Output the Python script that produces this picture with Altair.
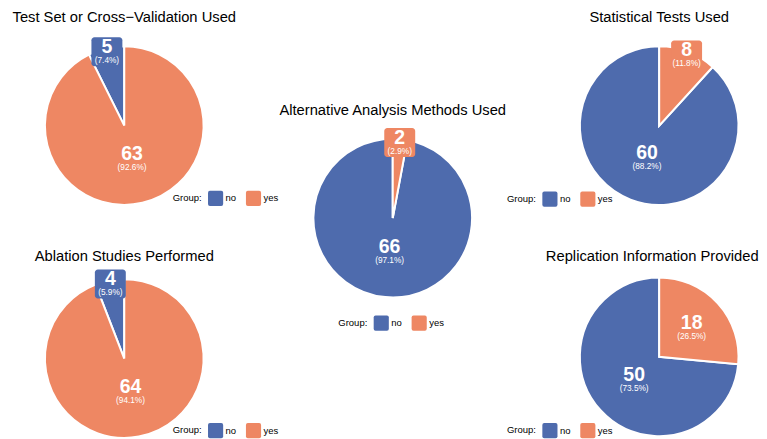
import math
import altair as alt
import pandas as pd

# ---- data ----
groups = ["no", "yes"]
title_test_set = "Test Set or Cross\u2212Validation Used"
title_stat = "Statistical Tests Used"
title_alt = "Alternative Analysis Methods Used"
title_ablation = "Ablation Studies Performed"
title_replication = "Replication Information Provided"
counts_test_set = [5, 63]
counts_stat = [60, 8]
counts_alt = [66, 2]
counts_ablation = [4, 64]
counts_replication = [50, 18]

# ---- style / layout ----
BLUE, ORANGE = "#4E6BAD", "#EE8763"
FONT = "Liberation Sans"
R_OUT = 79.5
STROKE = 2
BOX_W, BOX_H = 31, 29
TITLE_FS = 14.75
TITLE_GAP = 1.15          # title bounds bottom -> text baseline
ROW_PLOT_TOP = 46.3       # page y of the top row's plot areas
PIE_BOX = 158             # plot area side of a pie panel
ROUNDED = ("M -0.75 -1 L 0.75 -1 Q 1 -1 1 -0.75 L 1 0.75 Q 1 1 0.75 1 "
           "L -0.75 1 Q -1 1 -1 0.75 L -1 -0.75 Q -1 -1 -0.75 -1 Z")


def label_radius(frac):
    return 76 if frac < 0.2 else (44 if frac < 0.5 else 34)


def top_extent(counts):
    total = sum(counts)
    ext = R_OUT + STROKE / 2
    cum = 0
    for i in sorted(range(len(groups)), key=lambda k: 0 if groups[k] == "yes" else 1):
        c = counts[i]
        cum += c
        frac = c / total
        if frac < 0.2:
            mid = 2 * math.pi * (cum - c / 2) / total
            ext = max(ext, label_radius(frac) * math.cos(mid) + BOX_H / 2)
    return ext


def pie_panel(title, counts, width, height, leg_x, leg_y, dist=None, offset=None, dx=0):
    df = pd.DataFrame({"group": groups, "count": counts})
    xs = alt.Scale(domain=[-width / 2, width / 2], nice=False, zero=False)
    ys = alt.Scale(domain=[-height / 2, height / 2], nice=False, zero=False)
    legend = alt.Legend(
        title="Group:", orient="none", legendX=leg_x, legendY=leg_y,
        direction="horizontal", titleOrient="left", titleAnchor="middle",
        titleBaseline="middle", titleFont=FONT, titleFontSize=9.5,
        titleFontWeight="normal", titleColor="black", titlePadding=5,
        labelFont=FONT, labelFontSize=9.5, labelColor="black", labelOffset=2,
        columnPadding=9, symbolType=ROUNDED, symbolSize=230,
        symbolStrokeWidth=0, symbolOpacity=1, padding=0,
    )
    color = alt.Color("group:N", scale=alt.Scale(domain=groups, range=[BLUE, ORANGE]),
                      legend=legend)
    base = (
        alt.Chart(df)
        .transform_calculate(ord="datum.group === 'yes' ? 0 : 1")
        .transform_joinaggregate(total="sum(count)")
        .transform_window(cum="sum(count)", sort=[alt.SortField("ord")], frame=[None, 0])
        .transform_calculate(frac="datum.count / datum.total")
        .transform_calculate(
            mid="2 * PI * (datum.cum - datum.count / 2) / datum.total",
            lr="datum.frac < 0.2 ? 76 : (datum.frac < 0.5 ? 44 : 34)",
            pct="'(' + format(100 * datum.frac, '.1f') + '%)'",
        )
        .transform_calculate(lx="datum.lr * sin(datum.mid)", ly="datum.lr * cos(datum.mid)")
        .transform_calculate(
            bx1=f"datum.lx - {BOX_W / 2}", bx2=f"datum.lx + {BOX_W / 2}",
            by1=f"datum.ly - {BOX_H / 2}", by2=f"datum.ly + {BOX_H / 2}",
        )
    )
    arc = base.mark_arc(outerRadius=R_OUT, stroke="white", strokeWidth=STROKE).encode(
        theta=alt.Theta("count:Q", stack=True),
        color=color,
        order=alt.Order("ord:Q"),
    )
    box = base.transform_filter("datum.frac < 0.2").mark_rect(cornerRadius=3).encode(
        x=alt.X("bx1:Q", scale=xs, axis=None), x2="bx2:Q",
        y=alt.Y("by1:Q", scale=ys, axis=None), y2="by2:Q",
        color=color,
    )
    num = base.mark_text(font=FONT, fontSize=19.5, fontWeight="bold", color="white",
                         baseline="middle", dy=-4.5).encode(
        x=alt.X("lx:Q", scale=xs, axis=None), y=alt.Y("ly:Q", scale=ys, axis=None),
        text="count:Q",
    )
    pct = base.mark_text(font=FONT, fontSize=8.3, color="white",
                         baseline="middle", dy=9.5).encode(
        x=alt.X("lx:Q", scale=xs, axis=None), y=alt.Y("ly:Q", scale=ys, axis=None),
        text="pct:N",
    )
    if offset is None:
        offset = dist - TITLE_GAP - top_extent(counts)
    return alt.layer(arc, box, num, pct).properties(
        width=width, height=height,
        title=alt.TitleParams(title, offset=offset, frame="group", anchor="middle",
                              dx=dx, font=FONT, fontSize=TITLE_FS, fontWeight="normal",
                              color="black"),
    )


# left column: pies at x 124.5, legends start at x 173
L_W = 230
L_PLOT_LEFT = 124.5 - L_W / 2
tl = pie_panel(title_test_set, counts_test_set, L_W, PIE_BOX, 173 - L_PLOT_LEFT,
               190 - ROW_PLOT_TOP, dist=102.6)
bl = pie_panel(title_ablation, counts_ablation, L_W, PIE_BOX, 173 - L_PLOT_LEFT, 143,
               dist=96)

# right column: legends start 73.5 px left of the plot areas
tr = pie_panel(title_stat, counts_stat, PIE_BOX, PIE_BOX, -73.5, 144.5, dist=102)
br = pie_panel(title_replication, counts_replication, PIE_BOX, PIE_BOX, -73.5, 144.7,
               dist=91, dx=-7)

# centre panel: plot area from the top row's plot top down, pie in its middle,
# title drawn inside the cell
C_CY, C_BASE = 218, 116
c_height = 2 * (C_CY - ROW_PLOT_TOP)
cc = pie_panel(title_alt, counts_alt, PIE_BOX, c_height, 24.5, 315 - ROW_PLOT_TOP,
               offset=ROW_PLOT_TOP - TITLE_GAP - C_BASE)


def col(*charts, spacing):
    return (alt.vconcat(*charts, spacing=spacing)
            .resolve_scale(color="independent")
            .resolve_legend(color="independent"))


chart = (
    alt.hconcat(col(tl, bl, spacing=39.4), cc, col(tr, br, spacing=39.7), spacing=0)
    .resolve_scale(color="independent")
    .resolve_legend(color="independent")
    .properties(padding={"left": L_PLOT_LEFT - 8, "top": 0.4, "right": 0, "bottom": 0})
    .configure(font=FONT)
    .configure_view(stroke=None)
)

chart.save("out.html", embed_options={"renderer": "svg", "actions": False})
